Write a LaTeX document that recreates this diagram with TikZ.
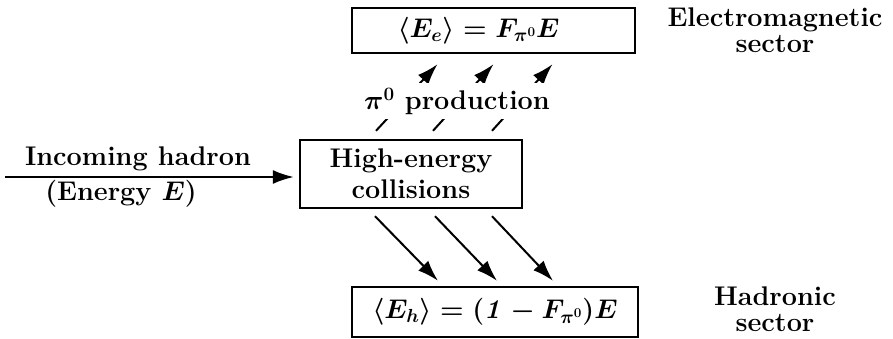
\RequirePackage{fix-cm}
\documentclass[tikz,border=0pt]{standalone}
\usetikzlibrary{arrows.meta}
\tikzset{
  txt/.style={font=\fontsize{27}{24}\selectfont\bfseries\boldmath},
  box/.style={txt, draw, line width=2.4pt, inner sep=0pt, align=center},
  flow/.style={-{Latex[length=21pt,width=14pt]}, line width=2pt},
  sectorname/.style={font=\fontsize{27}{26}\selectfont\bfseries, align=center, anchor=base}
}
\begin{document}
\begin{tikzpicture}[x=1pt, y=-1pt]
\useasboundingbox (0,0) rectangle (893,339);
% the three boxes
\node[box, minimum width=283pt, minimum height=45pt] (em) at (493.5,30.5) {$\langle E_e\rangle = F_{\pi^0}E$\hspace*{30pt}};
\node[box, minimum width=222pt, minimum height=68pt] (coll) at (411,174) {High-energy\\[6pt]collisions};
\node[box, minimum width=286pt, minimum height=50pt] (had) at (495,312) {$\langle E_h\rangle = (\mathit{1} - F_{\pi^0})E$};
% incoming hadron
\coordinate (in) at (5,177);
\draw[flow, shorten >=5pt] (in) -- (in -| coll.west);
\node[txt, anchor=base] (inc) at (138,165) {Incoming hadron};
\node[txt, anchor=base] (en) at (121,200) {(Energy $E$)};
% electromagnetic branch
\foreach \a/\b in {-35/-56, 22/0, 81/59} {
  \draw[flow] ([xshift=\a pt, yshift=8pt]coll.north) -- ([xshift=\b pt, yshift=-10pt]em.south);
}
\node[txt, fill=white, inner sep=0pt, text height=27pt, text depth=9pt, anchor=base] (pi) at (457,110) {$\pi^0$ production};
% hadronic branch
\foreach \a/\b in {-36/-57, 24/2, 81/58} {
  \draw[flow] ([xshift=\a pt, yshift=-7pt]coll.south) -- ([xshift=\b pt, yshift=5pt]had.north);
}
% sector names
\node[sectorname] (emname) at (775,53) {Electromagnetic\\sector};
\node[sectorname] (hadname) at (775,331) {Hadronic\\sector};
\end{tikzpicture}
\end{document}
